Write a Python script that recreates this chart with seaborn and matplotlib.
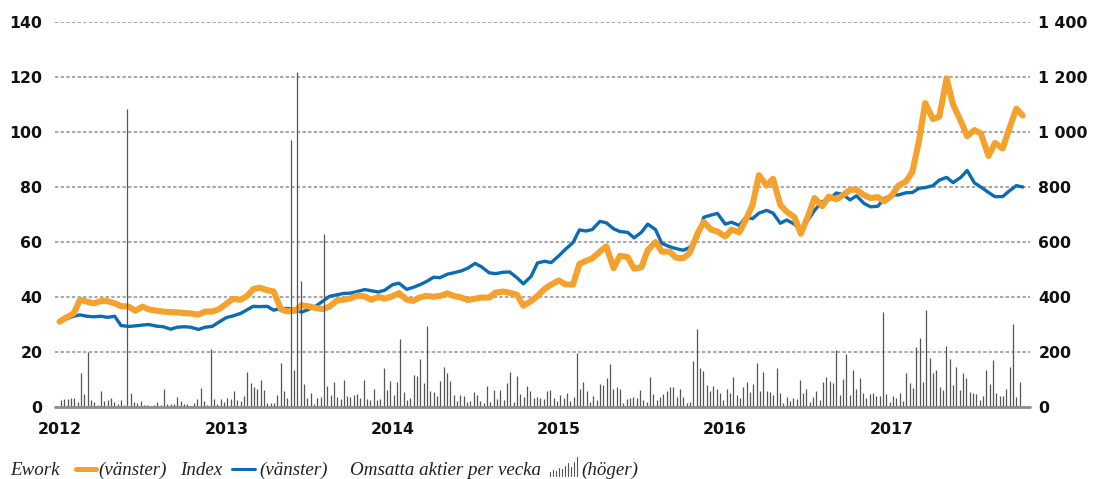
import numpy as np
import pandas as pd
import matplotlib
matplotlib.use("Agg")
import matplotlib.pyplot as plt
from matplotlib.lines import Line2D
from matplotlib.ticker import FuncFormatter
import matplotlib.dates as mdates
import seaborn as sns

# ---------------- data ----------------
years = [2012, 2013, 2014, 2015, 2016, 2017]

# semi-monthly observations (1st and 15th of each month)
line_dates = pd.date_range("2012-01-01", "2017-10-15", freq="SMS")

ework = [
    31.0, 32.5, 34.0, 39.0, 38.3, 37.7, 38.5, 38.5, 37.7, 36.7,
    36.5, 35.0, 36.5, 35.5, 35.0, 34.7, 34.5, 34.4, 34.2, 34.0,
    33.6, 34.7, 34.7, 35.5, 37.5, 39.3, 39.0, 40.3, 42.8, 43.4,
    42.5, 42.0, 35.5, 34.8, 35.0, 37.0, 36.6, 36.0, 35.6, 36.5,
    38.7, 39.0, 39.5, 40.5, 40.2, 39.0, 40.0, 39.4, 40.3, 41.4,
    39.0, 38.6, 39.8, 40.4, 40.1, 40.4, 41.3, 40.4, 39.8, 38.9,
    39.4, 39.8, 39.8, 41.6, 42.0, 41.5, 40.8, 36.8, 38.5, 40.4,
    43.0, 44.5, 46.0, 44.6, 44.5, 52.0, 53.1, 54.0, 56.5, 58.4,
    50.5, 55.0, 54.5, 50.3, 50.8, 57.0, 60.0, 56.5, 56.5, 54.3,
    54.1, 56.0, 63.0, 67.3, 64.5, 63.8, 62.0, 64.5, 63.5, 68.0,
    73.5, 84.3, 80.5, 83.0, 73.5, 71.0, 69.0, 63.0, 69.5, 76.0,
    73.0, 76.5, 75.5, 77.0, 79.0, 79.0, 77.0, 76.0, 76.3, 74.8,
    77.0, 80.5, 82.0, 85.6, 96.5, 110.5, 104.7, 105.6, 119.5, 110.0,
    104.0, 98.5, 100.7, 99.5, 91.3, 96.0, 94.0, 101.0, 108.5, 106.0,
]

index = [
    31.0, 32.0, 33.0, 33.5, 33.0, 32.8, 33.0, 32.6, 33.0, 29.6,
    29.3, 29.5, 29.8, 30.0, 29.4, 29.2, 28.3, 29.0, 29.2, 29.0,
    28.2, 29.0, 29.3, 30.8, 32.5, 33.1, 34.0, 35.3, 36.6, 36.5,
    36.6, 35.2, 35.9, 35.8, 35.5, 34.5, 35.5, 36.5, 38.5, 40.2,
    40.8, 41.3, 41.4, 42.0, 42.7, 42.3, 41.8, 42.5, 44.5, 45.0,
    42.8, 43.5, 44.4, 45.5, 47.2, 47.0, 48.3, 48.8, 49.5, 50.5,
    52.2, 51.0, 48.8, 48.5, 49.0, 49.1, 47.0, 44.8, 47.5, 52.4,
    53.0, 52.5, 55.0, 57.3, 59.8, 64.4, 64.0, 64.5, 67.5, 67.0,
    64.8, 63.8, 63.5, 61.5, 63.5, 66.5, 64.5, 59.5, 58.3, 57.6,
    57.0, 58.0, 61.5, 69.0, 69.8, 70.4, 66.5, 67.2, 66.0, 69.0,
    68.5, 70.5, 71.5, 70.5, 66.8, 68.0, 66.5, 64.0, 68.0, 71.5,
    74.7, 75.3, 77.8, 77.3, 75.3, 76.8, 74.0, 72.8, 73.0, 75.8,
    77.1, 77.1, 77.9, 78.0, 79.5, 79.8, 80.5, 82.5, 83.5, 81.6,
    83.5, 86.0, 81.5, 80.0, 78.0, 76.5, 76.5, 78.5, 80.5, 80.0,
]

# weekly traded shares (right axis, thousands)
volume = [
    25, 30, 28, 34, 34, 19, 122, 47, 200, 25,
    18, 7, 57, 22, 25, 34, 19, 11, 25, 7,
    1085, 51, 18, 15, 22, 7, 6, 1, 7, 18,
    7, 65, 11, 11, 11, 37, 22, 11, 11, 4,
    13, 29, 70, 23, 7, 211, 29, 10, 29, 18,
    33, 28, 57, 25, 22, 40, 127, 87, 73, 67,
    98, 61, 15, 15, 15, 44, 160, 57, 33, 970,
    135, 1220, 460, 84,
    33, 51, 11, 33, 36, 630, 76, 44, 91, 36,
    29, 98, 40, 36, 44, 47, 33, 98, 29, 25,
    65, 25, 29, 142, 62, 95, 44, 91, 247, 55,
    25, 33, 116, 113, 175, 87, 295, 58, 55, 40,
    95, 145, 124, 95, 44, 22, 44, 40, 18, 22,
    55, 44, 22, 15, 76, 18, 62, 29, 62, 25,
    87, 127, 18, 113, 47, 36, 76, 58, 33, 36,
    33, 29, 58,
    62, 33, 22, 44, 33, 51, 22, 36, 196,
    65, 91, 58, 18, 40, 25, 84, 80, 105, 156,
    65, 73, 65, 15, 29, 33, 36, 33, 62, 25,
    18, 109, 47, 25, 36, 47, 58, 73, 73, 36,
    65, 36, 15, 18, 167, 284, 142, 131, 80, 58,
    76, 65, 51, 25, 65, 51, 109, 44, 33, 73,
    91, 55, 84, 160, 58, 127, 58, 55, 44, 142,
    51, 15, 36, 22, 33,
    29, 98, 51, 65, 18, 36, 58, 25,
    91, 109, 95, 87, 207, 44, 102, 193, 44, 135,
    65, 105, 51, 33, 47, 51, 40, 40, 345, 47,
    18, 40, 33, 51, 22, 124, 87, 69, 218, 251,
    91, 353, 178, 124, 135, 73, 62, 222, 175, 80,
    145, 62, 124, 105, 55, 51, 47, 25, 40, 135,
    84, 171, 51, 40, 40, 65, 145, 302, 36, 91,
]
volume_dates = pd.date_range("2012-01-04", "2017-10-08", periods=len(volume))

left_ticks = [0, 20, 40, 60, 80, 100, 120, 140]
right_ticks = [0, 200, 400, 600, 800, 1000, 1200, 1400]

# ---------------- style ----------------
ORANGE = "#F4A22D"
BLUE = "#0B6CB3"
BARS = "#555555"
GRID = "#a9a9a9"
BASE = "#8e8e8e"

sns.set_theme(style="white")
plt.rcParams["font.family"] = ["DejaVu Sans"]

W, H = 1093, 479
fig = plt.figure(figsize=(W / 100, H / 100), dpi=100)
ax = fig.add_axes([55 / W, 72 / H, 975 / W, 385 / H])

df = pd.DataFrame({"date": line_dates, "Ework": ework, "Index": index})
sns.lineplot(data=df, x="date", y="Index", ax=ax, color=BLUE, lw=2.4, zorder=3)
sns.lineplot(data=df, x="date", y="Ework", ax=ax, color=ORANGE, lw=4.4, zorder=4,
             solid_joinstyle="round", solid_capstyle="round")

ax.set_ylim(0, 140)
ax.set_yticks(left_ticks)
ax.set_xlim(pd.Timestamp("2011-12-22"), pd.Timestamp("2017-10-31"))
ax.set_xticks([pd.Timestamp(f"{y}-01-01") for y in years])
ax.set_xticklabels([str(y) for y in years])
ax.set_xlabel("")
ax.set_ylabel("")
ax.yaxis.grid(True, color=GRID, linestyle=(0, (1.6, 1.1)), lw=1.5)
ax.xaxis.grid(False)
for s in ax.spines.values():
    s.set_visible(False)
ax.tick_params(axis="x", length=0, pad=11, labelsize=11.3, labelcolor="#111111")
ax.tick_params(axis="y", length=0, pad=9, labelsize=11.3, labelcolor="#111111")
for lab in ax.get_xticklabels() + ax.get_yticklabels():
    lab.set_fontweight("bold")

ax2 = ax.twinx()
ax2.vlines(volume_dates, 0, volume, color=BARS, lw=0.9, zorder=2)
ax2.set_ylim(0, 1400)
ax2.set_yticks(right_ticks)
ax2.yaxis.set_major_formatter(FuncFormatter(lambda v, p: f"{int(v):,}".replace(",", " ")))
ax2.grid(False)
for s in ax2.spines.values():
    s.set_visible(False)
ax2.tick_params(axis="y", length=0, pad=6, labelsize=11.3, labelcolor="#111111")
for lab in ax2.get_yticklabels():
    lab.set_fontweight("bold")
ax2.axhline(0, color=BASE, lw=2.0, zorder=5, clip_on=False)

# ---------------- legend (bottom) ----------------
def fx(px):
    return px / W

def fy(py):
    return (H - py) / H

lfont = dict(family=["Liberation Serif", "DejaVu Serif"], style="italic",
             fontsize=13.7, color="#222222", va="baseline", ha="left")
base_y = fy(475)
fig.text(fx(10), base_y, "Ework", **lfont)
fig.add_artist(Line2D([fx(76), fx(96)], [fy(469), fy(469)], transform=fig.transFigure,
                      color=ORANGE, lw=3.6, solid_capstyle="round"))
fig.text(fx(98), base_y, "(vänster)", **lfont)
fig.text(fx(180), base_y, "Index", **lfont)
fig.add_artist(Line2D([fx(232), fx(255)], [fy(469), fy(469)], transform=fig.transFigure,
                      color=BLUE, lw=2.2))
fig.text(fx(259), base_y, "(vänster)", **lfont)
fig.text(fx(350), base_y, "Omsatta aktier per vecka", **lfont)
icon_h = [4, 6, 5, 8, 7, 10, 13, 9, 14, 19]
for i, h in enumerate(icon_h):
    xx = 550 + i * 3
    fig.add_artist(Line2D([fx(xx), fx(xx)], [fy(476), fy(476 - h)], transform=fig.transFigure,
                          color=BARS, lw=0.8))
fig.text(fx(581), base_y, "(höger)", **lfont)

fig.savefig("out.png", dpi=100)
